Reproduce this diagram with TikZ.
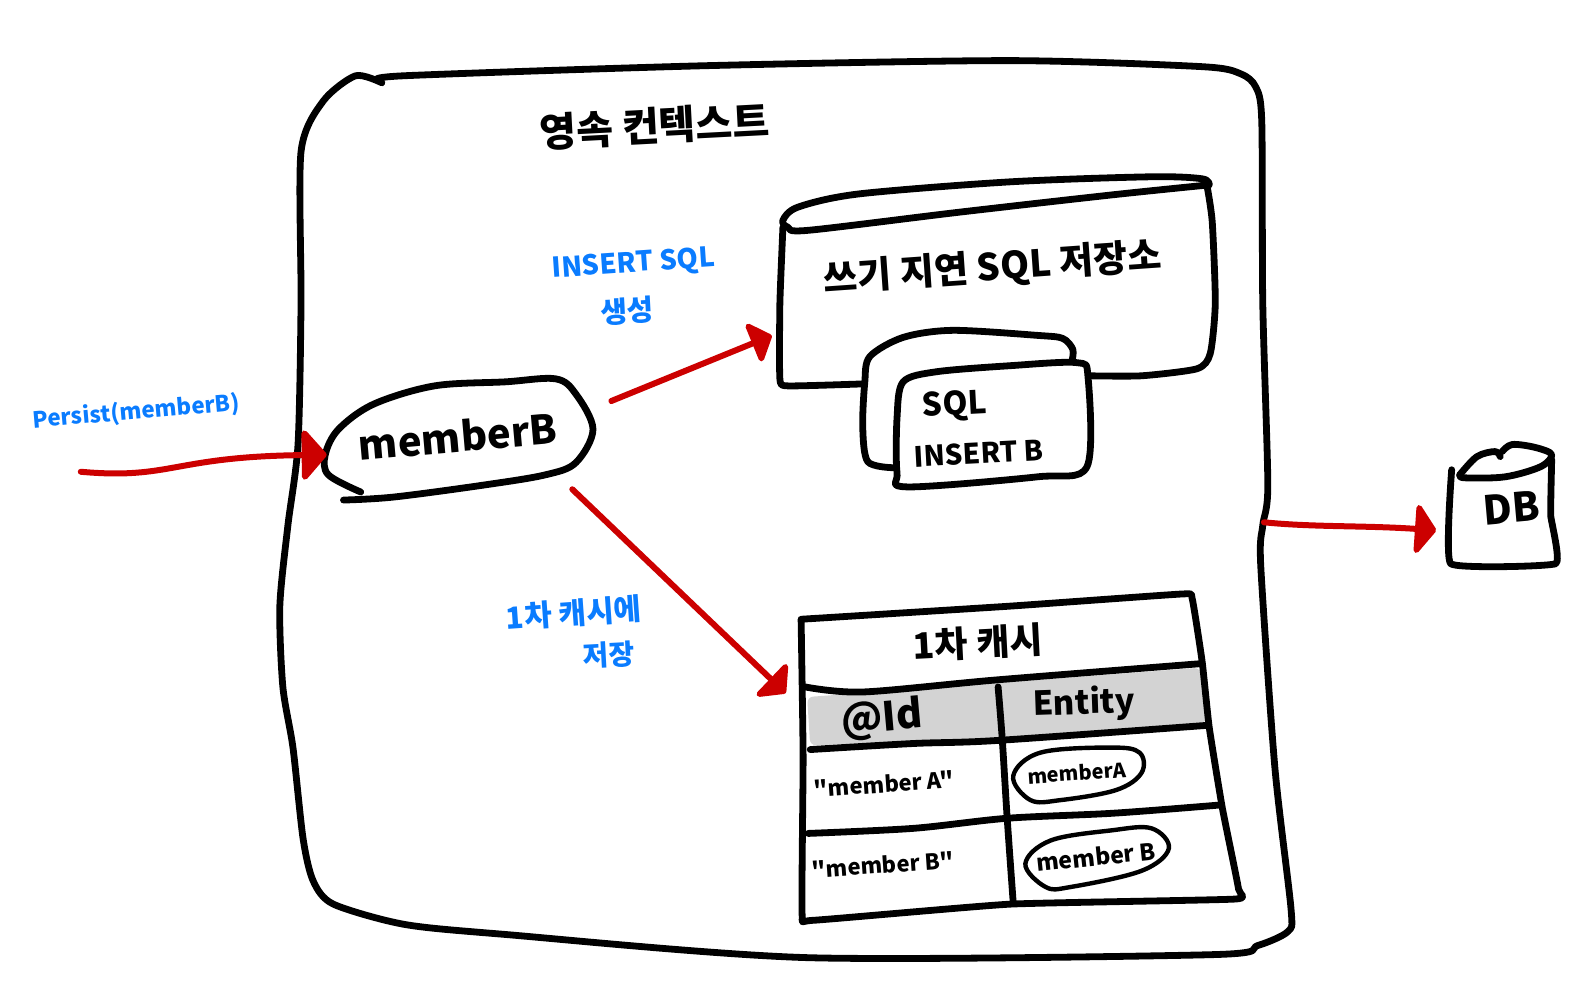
\documentclass[tikz,border=0pt]{standalone}
\usepackage{fontspec}
\setmainfont{Noto Sans CJK KR}
\newfontfamily\plainf{Noto Sans CJK KR}
\usetikzlibrary{arrows.meta,shapes.geometric}
\definecolor{redpen}{HTML}{CC0000}
\definecolor{bluepen}{HTML}{0A7CFF}
\definecolor{headgray}{HTML}{D3D3D3}
\tikzset{
  ink/.style={draw=black,line width=3.4pt,line cap=round,line join=round},
  thinink/.style={draw=black,line width=2.2pt,line cap=round,line join=round},
  hidden/.style={inner sep=0pt,outer sep=0pt},
  txt/.style={inner sep=0pt,text=black,font=\bfseries\fontsize{#1}{#1}\selectfont},
  quotetxt/.style={inner sep=0pt,text=black,font=\plainf\bfseries\fontsize{#1}{#1}\selectfont},
  bluetxt/.style={inner sep=0pt,text=bluepen,font=\bfseries\fontsize{#1}{#1}\selectfont},
  redarrow/.style={draw=redpen,line width=3pt,line cap=round},
}
\begin{document}
\begin{tikzpicture}[x=0.5051pt,y=-0.5051pt]
\useasboundingbox[fill=white] (0,0) rectangle (1568,989);

% hidden anchors for connectors
\node[hidden,minimum width=481pt,minimum height=434pt] (ctx) at (775,517) {};
\node[hidden,minimum width=216pt,minimum height=86pt] (store) at (986,295) {};
\node[hidden,minimum width=202pt,minimum height=151pt] (cache) at (1000,750) {};
\node[hidden,minimum width=50pt,minimum height=60pt] (db) at (1487,505) {};
\node[hidden,ellipse,minimum width=133pt,minimum height=60pt,rotate=5] (memberBshape) at (453,432) {};
\coordinate (pstart) at (80,467);

% persistence context frame
\draw[ink] plot[smooth,tension=0.45] coordinates {
 (378,82) (352,75) (320,100) (298,150) (298,300) (295,440) (285,520) (277,600) (280,680)
 (290,740) (300,830) (310,872) (330,895) (400,915) (500,925) (800,948) (1200,945) (1245,936) (1275,922)
 (1278,900) (1262,760) (1248,560) (1250,520) (1255,480) (1250,300) (1249,120) (1243,86) (1228,73) (1190,66)
 (1000,60) (700,65) (400,75) (376,80)};
\node[txt=20,rotate=3] (title) at (648,125) {영속 컨텍스트};

% write-behind SQL store
\draw[ink] plot[smooth,tension=0.5] coordinates {
 (1197,183) (1190,177) (1140,175) (1000,180) (850,192) (790,205) (775,218) (780,225) (800,228)
 (950,210) (1100,193) (1197,183)};
\draw[ink] plot[smooth,tension=0.3] coordinates {(775,225) (772,300) (772,375) (780,382) (855,380)};
\draw[ink] plot[smooth,tension=0.4] coordinates {(1195,185) (1200,220) (1203,300) (1198,350) (1185,365) (1130,372) (1078,372)};
\node[txt=18.5,rotate=4] (storelabel) at (983,266) {쓰기 지연 SQL 저장소};
\draw[ink] plot[smooth,tension=0.5] coordinates {(884,463) (859,457) (854,423) (856,379) (861,353) (894,334) (943,327) (1027,332) (1052,335) (1062,346) (1061,358)};
\draw[ink] plot[smooth cycle,tension=0.5] coordinates {(888,413) (894,378) (927,368) (1000,362) (1066,359) (1077,373) (1076,462) (1027,472) (898,482) (888,468)};
\node[txt=16,rotate=3] (sql) at (945,402) {SQL};
\node[txt=14,rotate=3] (insb) at (969,449) {INSERT B};

% memberB
\draw[ink] plot[smooth,tension=0.55] coordinates {(340,495) (390,492) (480,480) (540,470) (570,458) (587,425) (570,390) (550,375) (500,378) (430,382) (370,400) (335,425) (322,450) (325,470) (357,487)};
\node[txt=20,rotate=5] (memberB) at (453,432) {memberB};

% first-level cache table
\fill[headgray,rounded corners=3pt] (799,690) -- (1188,661) -- (1195,715) -- (990,730) -- (802,738) -- cycle;
\draw[ink] plot[smooth,tension=0.25] coordinates {(793,613) (1000,600) (1170,588) (1180,592) (1190,655) (1197,720) (1210,800) (1226,880) (1222,890) (1000,895) (805,911) (794,905) (795,750) (793,613)};
\draw[ink] plot[smooth,tension=0.5] coordinates {(797,680) (854,685) (987,673) (1188,657)};
\draw[ink] plot[smooth,tension=0.5] coordinates {(802,742) (904,736) (987,733) (1195,718)};
\draw[ink] plot[smooth,tension=0.5] coordinates {(800,825) (904,820) (997,810) (1102,805) (1206,797)};
\draw[ink] plot[smooth,tension=0.5] coordinates {(988,680) (992,730) (997,810) (1003,894)};
\node[txt=18,rotate=3] (cachetitle) at (968,636) {1차 캐시};
\node[txt=20,rotate=5] (idh) at (873,712) {@Id};
\node[txt=16.5,rotate=2] (enth) at (1073,697) {Entity};
\node[quotetxt=11,rotate=4] (ida) at (875,776) {"member A"};
\node[quotetxt=11,rotate=4] (idb) at (874,856) {"member B"};
\draw[thinink] plot[smooth cycle,tension=0.6] coordinates {(1003,768) (1030,745) (1100,740) (1128,745) (1130,765) (1105,782) (1050,792) (1020,792)};
\draw[thinink] plot[smooth cycle,tension=0.6] coordinates {(1015,855) (1040,832) (1100,822) (1140,820) (1157,840) (1130,862) (1060,878) (1035,878)};
\node[txt=10,rotate=4] (ea) at (1066,765) {memberA};
\node[txt=11.5,rotate=6] (eb) at (1085,848) {member B};

% DB
\draw[ink] plot[smooth,tension=0.2] coordinates {(1437,465) (1436,558) (1540,558) (1535,510) (1536,455)};
\draw[ink] plot[smooth,tension=0.55] coordinates {(1485,452) (1480,447) (1462,452) (1445,470)};
\draw[ink] plot[smooth,tension=0.55] coordinates {(1487,447) (1497,440) (1520,443) (1536,450) (1525,462) (1490,472) (1450,473) (1445,470)};
\node[txt=20,rotate=5] (dblabel) at (1496,503) {DB};

% blue labels
\node[bluetxt=11.2,rotate=5] (persist) at (135,408) {Persist(memberB)};
\node[bluetxt=13.7,rotate=4] (inssql) at (627,262) {INSERT SQL};
\node[bluetxt=14.5,rotate=3] (gen) at (621,308) {생성};
\node[bluetxt=15,rotate=4] (l1a) at (568,607) {1차 캐시에};
\node[bluetxt=14,rotate=3] (l1b) at (603,648) {저장};

% red connectors
\draw[redarrow,-{Triangle[length=13pt,width=29pt,round]}] (pstart) .. controls (170,475) and (170,452) .. (memberBshape.183);
\draw[redarrow,-{Triangle[length=11pt,width=24pt,round]},shorten <=14pt,shorten >=4.5pt] (memberBshape.6.5) -- (store.189.3);
\draw[redarrow,-{Triangle[length=11pt,width=26pt,round]},shorten <=13pt,shorten >=15.6pt] (memberBshape.-25) -- (cache.168.6);
\draw[redarrow,-{Triangle[length=11pt,width=29pt,round]},shorten >=8pt] (ctx.east) .. controls (1300,522) and (1350,520) .. (db.203);
\end{tikzpicture}
\end{document}
